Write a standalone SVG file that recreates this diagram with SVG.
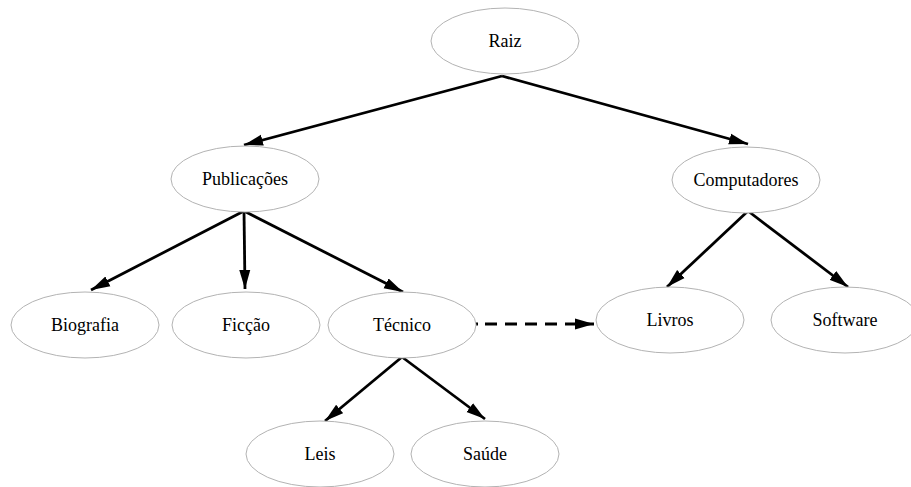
<svg xmlns="http://www.w3.org/2000/svg" width="911" height="487" viewBox="0 0 911 487">
<style>
.node ellipse{fill:#fff;stroke:#b3b3b3;stroke-width:1}
.node text{font-family:"Liberation Serif","Times New Roman",serif;font-size:18px;fill:#000;text-anchor:middle}
.edge{stroke:#000;stroke-width:2.8;fill:none;marker-end:url(#ah)}
.dash{stroke-dasharray:2 7 12 8 12 8 12 8 12 8 12 8 100}
</style>
<defs>
<marker id="ah" markerUnits="userSpaceOnUse" markerWidth="20" markerHeight="12" refX="19" refY="5.5" orient="auto" viewBox="0 0 20 11">
<path d="M0,0 L19,5.5 L0,11 Z" fill="#000"/>
</marker>
</defs>
<rect width="911" height="487" fill="#fff"/>
<g id="connectors">
<line class="edge" x1="502" y1="76" x2="244" y2="145"/>
<line class="edge" x1="502" y1="76" x2="748" y2="144"/>
<line class="edge" x1="244" y1="211" x2="91" y2="290"/>
<line class="edge" x1="244" y1="211" x2="245" y2="289"/>
<line class="edge" x1="244" y1="211" x2="403" y2="292"/>
<line class="edge" x1="748" y1="211" x2="667" y2="287"/>
<line class="edge" x1="748" y1="211" x2="848" y2="287"/>
<line class="edge" x1="402" y1="357" x2="325" y2="421"/>
<line class="edge" x1="402" y1="357" x2="485" y2="419"/>
<line class="edge dash" x1="476" y1="324" x2="594" y2="324"/>
</g>
<g id="raiz" class="node"><ellipse cx="505" cy="41" rx="74" ry="33"/><text x="505" y="47">Raiz</text></g>
<g id="publicacoes" class="node"><ellipse cx="245" cy="179" rx="74" ry="33"/><text x="245" y="185">Publicações</text></g>
<g id="computadores" class="node"><ellipse cx="746" cy="180" rx="74" ry="33"/><text x="746" y="186">Computadores</text></g>
<g id="biografia" class="node"><ellipse cx="85" cy="325" rx="74" ry="33"/><text x="85" y="331">Biografia</text></g>
<g id="ficcao" class="node"><ellipse cx="246" cy="325" rx="74" ry="33"/><text x="246" y="331">Ficção</text></g>
<g id="tecnico" class="node"><ellipse cx="402" cy="325" rx="74" ry="33"/><text x="402" y="331">Técnico</text></g>
<g id="livros" class="node"><ellipse cx="670" cy="320" rx="74" ry="33"/><text x="670" y="326">Livros</text></g>
<g id="software" class="node"><ellipse cx="845" cy="320" rx="74" ry="33"/><text x="845" y="326">Software</text></g>
<g id="leis" class="node"><ellipse cx="320" cy="454" rx="74" ry="33"/><text x="320" y="460">Leis</text></g>
<g id="saude" class="node"><ellipse cx="485" cy="454" rx="74" ry="33"/><text x="485" y="460">Saúde</text></g>
</svg>
